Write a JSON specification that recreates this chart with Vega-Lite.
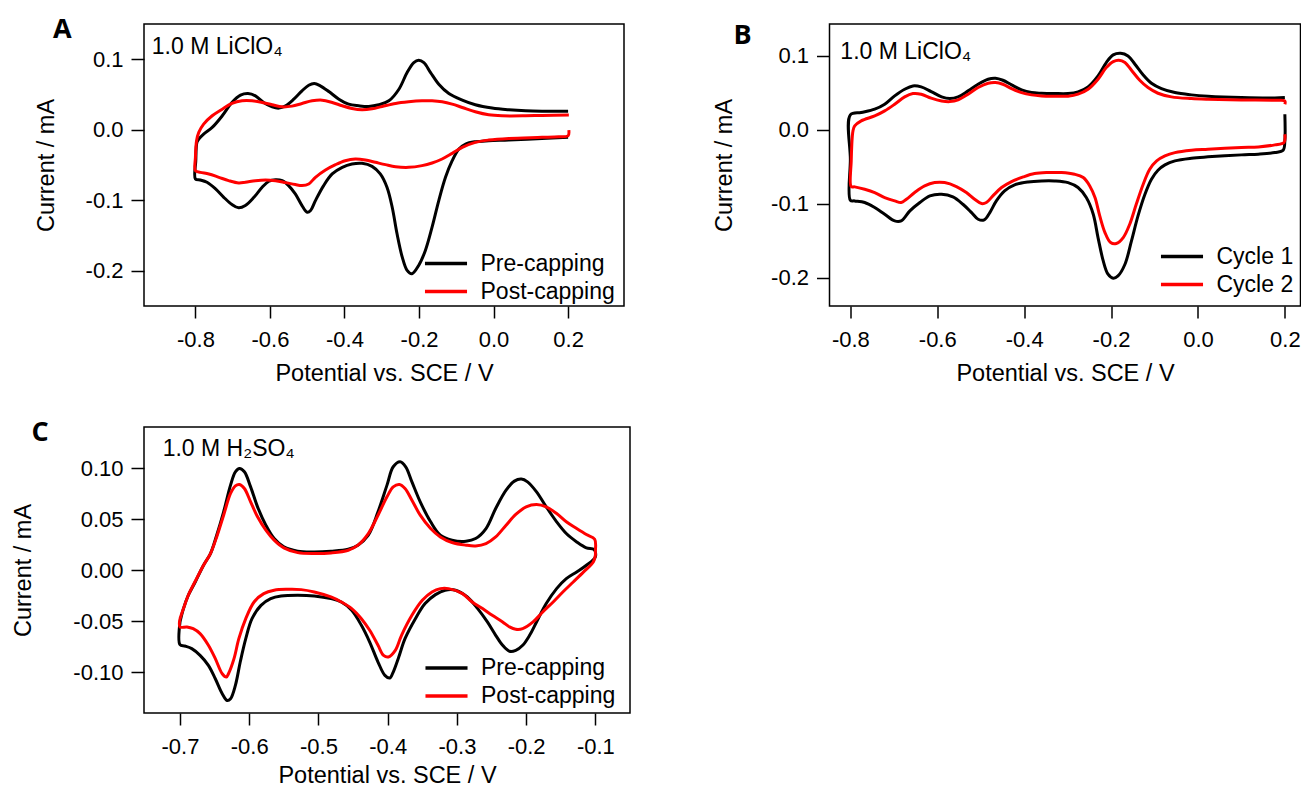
{
"$schema": "https://vega.github.io/schema/vega-lite/v6.json",
"background": "white",
"padding": {"left": 11, "top": 15, "right": 0, "bottom": 0},
"columns": 2,
"bounds": "flush",
"spacing": {"row": 121, "column": 199.5},
"resolve": {"scale": {"color": "independent"}, "legend": {"color": "independent"}},
"config": {
  "view": {"stroke": "black", "strokeWidth": 1.5},
  "font": "Liberation Sans",
  "axis": {"domain": false, "grid": false, "tickColor": "black", "tickWidth": 1.5, "labelFont": "Liberation Sans", "labelFontSize": 22, "labelColor": "black", "titleFont": "Liberation Sans", "titleFontSize": 23.5, "titleFontWeight": "normal", "titleColor": "black"},
  "axisX": {"tickSize": 12, "labelPadding": 11, "titlePadding": 11},
  "axisY": {"tickSize": 13, "labelPadding": 8, "titlePadding": 27},
  "legend": {"orient": "none", "symbolType": "M-2.5,0H2.5", "symbolSize": 283, "symbolStrokeWidth": 3.5, "labelFont": "Liberation Sans", "labelFontSize": 23, "labelColor": "black", "labelOffset": 23, "rowPadding": 4, "padding": 0},
  "title": {"font": "Open Sans", "fontSize": 27, "fontWeight": "bold", "color": "black", "anchor": "start", "frame": "group", "offset": 0, "baseline": "alphabetic"}
},
"concat": [
{
 "width": 480, "height": 282,
 "title": {"text": "A", "dx": -91, "dy": 23.75},
 "encoding": {
   "x": {"field": "E", "type": "quantitative", "title": "Potential vs. SCE / V", "scale": {"domain": [-0.938, 0.35], "nice": false, "zero": false}, "axis": {"values": [-0.8,-0.6,-0.4,-0.2,0,0.2], "labelExpr": "replace(format(datum.value, '.1f'), '\u2212', '-')"}},
   "y": {"field": "I", "type": "quantitative", "title": "Current / mA", "scale": {"domain": [-0.25, 0.15], "nice": false, "zero": false}, "axis": {"values": [-0.2,-0.1,0,0.1], "labelExpr": "replace(format(datum.value, '.1f'), '\u2212', '-')"}}
 },
 "layer": [
  {"data": {"values": [
{"series":"Pre-capping","E":0.200,"I":-0.0108},{"series":"Pre-capping","E":0.130,"I":-0.0123},{"series":"Pre-capping","E":0.041,"I":-0.0146},{"series":"Pre-capping","E":-0.013,"I":-0.0156},{"series":"Pre-capping","E":-0.049,"I":-0.0170},{"series":"Pre-capping","E":-0.075,"I":-0.0203},{"series":"Pre-capping","E":-0.093,"I":-0.0274},{"series":"Pre-capping","E":-0.111,"I":-0.0439},{"series":"Pre-capping","E":-0.129,"I":-0.0675},{"series":"Pre-capping","E":-0.147,"I":-0.1005},{"series":"Pre-capping","E":-0.165,"I":-0.1382},{"series":"Pre-capping","E":-0.183,"I":-0.1712},{"series":"Pre-capping","E":-0.201,"I":-0.1925},{"series":"Pre-capping","E":-0.219,"I":-0.2042},{"series":"Pre-capping","E":-0.232,"I":-0.1995},{"series":"Pre-capping","E":-0.245,"I":-0.1807},{"series":"Pre-capping","E":-0.259,"I":-0.1476},{"series":"Pre-capping","E":-0.272,"I":-0.1099},{"series":"Pre-capping","E":-0.286,"I":-0.0816},{"series":"Pre-capping","E":-0.304,"I":-0.0627},{"series":"Pre-capping","E":-0.326,"I":-0.0519},{"series":"Pre-capping","E":-0.353,"I":-0.0476},{"series":"Pre-capping","E":-0.380,"I":-0.0486},{"series":"Pre-capping","E":-0.406,"I":-0.0533},{"series":"Pre-capping","E":-0.433,"I":-0.0627},{"series":"Pre-capping","E":-0.456,"I":-0.0792},{"series":"Pre-capping","E":-0.478,"I":-0.1005},{"series":"Pre-capping","E":-0.491,"I":-0.1146},{"series":"Pre-capping","E":-0.500,"I":-0.1170},{"series":"Pre-capping","E":-0.514,"I":-0.1075},{"series":"Pre-capping","E":-0.532,"I":-0.0910},{"series":"Pre-capping","E":-0.550,"I":-0.0792},{"series":"Pre-capping","E":-0.567,"I":-0.0722},{"series":"Pre-capping","E":-0.585,"I":-0.0708},{"series":"Pre-capping","E":-0.603,"I":-0.0731},{"series":"Pre-capping","E":-0.621,"I":-0.0816},{"series":"Pre-capping","E":-0.643,"I":-0.0958},{"series":"Pre-capping","E":-0.666,"I":-0.1075},{"series":"Pre-capping","E":-0.684,"I":-0.1108},{"series":"Pre-capping","E":-0.702,"I":-0.1061},{"series":"Pre-capping","E":-0.724,"I":-0.0958},{"series":"Pre-capping","E":-0.746,"I":-0.0840},{"series":"Pre-capping","E":-0.769,"I":-0.0745},{"series":"Pre-capping","E":-0.787,"I":-0.0712},{"series":"Pre-capping","E":-0.800,"I":-0.0698},{"series":"Pre-capping","E":-0.799,"I":-0.0439},{"series":"Pre-capping","E":-0.796,"I":-0.0179},
{"series":"Pre-capping","E":-0.791,"I":-0.0132},{"series":"Pre-capping","E":-0.778,"I":-0.0061},{"series":"Pre-capping","E":-0.755,"I":0.0033},{"series":"Pre-capping","E":-0.728,"I":0.0198},{"series":"Pre-capping","E":-0.702,"I":0.0387},{"series":"Pre-capping","E":-0.679,"I":0.0491},{"series":"Pre-capping","E":-0.659,"I":0.0514},{"series":"Pre-capping","E":-0.639,"I":0.0481},{"series":"Pre-capping","E":-0.617,"I":0.0387},{"series":"Pre-capping","E":-0.594,"I":0.0325},{"series":"Pre-capping","E":-0.576,"I":0.0307},{"series":"Pre-capping","E":-0.558,"I":0.0340},{"series":"Pre-capping","E":-0.536,"I":0.0434},{"series":"Pre-capping","E":-0.514,"I":0.0552},{"series":"Pre-capping","E":-0.496,"I":0.0632},{"series":"Pre-capping","E":-0.481,"I":0.0656},{"series":"Pre-capping","E":-0.465,"I":0.0623},{"series":"Pre-capping","E":-0.442,"I":0.0542},{"series":"Pre-capping","E":-0.415,"I":0.0434},{"series":"Pre-capping","E":-0.389,"I":0.0363},{"series":"Pre-capping","E":-0.362,"I":0.0340},{"series":"Pre-capping","E":-0.335,"I":0.0330},{"series":"Pre-capping","E":-0.308,"I":0.0354},{"series":"Pre-capping","E":-0.281,"I":0.0410},{"series":"Pre-capping","E":-0.254,"I":0.0575},{"series":"Pre-capping","E":-0.232,"I":0.0811},{"series":"Pre-capping","E":-0.214,"I":0.0953},{"series":"Pre-capping","E":-0.201,"I":0.0986},{"series":"Pre-capping","E":-0.187,"I":0.0953},{"series":"Pre-capping","E":-0.169,"I":0.0811},{"series":"Pre-capping","E":-0.147,"I":0.0646},{"series":"Pre-capping","E":-0.120,"I":0.0514},{"series":"Pre-capping","E":-0.084,"I":0.0420},{"series":"Pre-capping","E":-0.049,"I":0.0354},{"series":"Pre-capping","E":-0.004,"I":0.0307},{"series":"Pre-capping","E":0.041,"I":0.0283},{"series":"Pre-capping","E":0.086,"I":0.0269},{"series":"Pre-capping","E":0.130,"I":0.0264},{"series":"Pre-capping","E":0.200,"I":0.0264},
{"series":"Post-capping","E":0.202,"I":-0.0005},{"series":"Post-capping","E":0.200,"I":-0.0085},{"series":"Post-capping","E":0.175,"I":-0.0099},{"series":"Post-capping","E":0.130,"I":-0.0108},{"series":"Post-capping","E":0.041,"I":-0.0123},{"series":"Post-capping","E":-0.013,"I":-0.0146},{"series":"Post-capping","E":-0.049,"I":-0.0179},{"series":"Post-capping","E":-0.084,"I":-0.0250},{"series":"Post-capping","E":-0.111,"I":-0.0335},{"series":"Post-capping","E":-0.138,"I":-0.0415},{"series":"Post-capping","E":-0.165,"I":-0.0472},{"series":"Post-capping","E":-0.192,"I":-0.0509},{"series":"Post-capping","E":-0.228,"I":-0.0533},{"series":"Post-capping","E":-0.263,"I":-0.0524},{"series":"Post-capping","E":-0.290,"I":-0.0495},{"series":"Post-capping","E":-0.317,"I":-0.0462},{"series":"Post-capping","E":-0.344,"I":-0.0429},{"series":"Post-capping","E":-0.371,"I":-0.0415},{"series":"Post-capping","E":-0.398,"I":-0.0439},{"series":"Post-capping","E":-0.424,"I":-0.0495},{"series":"Post-capping","E":-0.451,"I":-0.0571},{"series":"Post-capping","E":-0.478,"I":-0.0675},{"series":"Post-capping","E":-0.496,"I":-0.0769},{"series":"Post-capping","E":-0.514,"I":-0.0792},{"series":"Post-capping","E":-0.532,"I":-0.0778},{"series":"Post-capping","E":-0.558,"I":-0.0750},{"series":"Post-capping","E":-0.585,"I":-0.0722},{"series":"Post-capping","E":-0.612,"I":-0.0712},{"series":"Post-capping","E":-0.639,"I":-0.0722},{"series":"Post-capping","E":-0.666,"I":-0.0745},{"series":"Post-capping","E":-0.684,"I":-0.0755},{"series":"Post-capping","E":-0.711,"I":-0.0722},{"series":"Post-capping","E":-0.737,"I":-0.0675},{"series":"Post-capping","E":-0.764,"I":-0.0627},{"series":"Post-capping","E":-0.787,"I":-0.0604},{"series":"Post-capping","E":-0.800,"I":-0.0580},{"series":"Post-capping","E":-0.800,"I":-0.0392},{"series":"Post-capping","E":-0.797,"I":-0.0156},
{"series":"Post-capping","E":-0.791,"I":-0.0038},{"series":"Post-capping","E":-0.778,"I":0.0080},{"series":"Post-capping","E":-0.755,"I":0.0198},{"series":"Post-capping","E":-0.728,"I":0.0292},{"series":"Post-capping","E":-0.702,"I":0.0373},{"series":"Post-capping","E":-0.675,"I":0.0410},{"series":"Post-capping","E":-0.648,"I":0.0410},{"series":"Post-capping","E":-0.621,"I":0.0387},{"series":"Post-capping","E":-0.594,"I":0.0354},{"series":"Post-capping","E":-0.567,"I":0.0325},{"series":"Post-capping","E":-0.541,"I":0.0335},{"series":"Post-capping","E":-0.514,"I":0.0373},{"series":"Post-capping","E":-0.487,"I":0.0410},{"series":"Post-capping","E":-0.460,"I":0.0420},{"series":"Post-capping","E":-0.433,"I":0.0387},{"series":"Post-capping","E":-0.406,"I":0.0340},{"series":"Post-capping","E":-0.380,"I":0.0302},{"series":"Post-capping","E":-0.353,"I":0.0283},{"series":"Post-capping","E":-0.326,"I":0.0297},{"series":"Post-capping","E":-0.299,"I":0.0330},{"series":"Post-capping","E":-0.263,"I":0.0373},{"series":"Post-capping","E":-0.228,"I":0.0396},{"series":"Post-capping","E":-0.192,"I":0.0410},{"series":"Post-capping","E":-0.165,"I":0.0410},{"series":"Post-capping","E":-0.138,"I":0.0396},{"series":"Post-capping","E":-0.111,"I":0.0363},{"series":"Post-capping","E":-0.084,"I":0.0316},{"series":"Post-capping","E":-0.049,"I":0.0255},{"series":"Post-capping","E":-0.013,"I":0.0212},{"series":"Post-capping","E":0.023,"I":0.0198},{"series":"Post-capping","E":0.086,"I":0.0198},{"series":"Post-capping","E":0.130,"I":0.0203},{"series":"Post-capping","E":0.202,"I":0.0208}
  ]},
   "mark": {"type": "line", "strokeWidth": 3, "interpolate": "catmull-rom", "strokeJoin": "round"},
   "encoding": {"color": {"field": "series", "type": "nominal", "scale": {"domain": ["Pre-capping", "Post-capping"], "range": ["#000000", "#ff0000"]}, "legend": {"title": null, "legendX": 290.5, "legendY": 228}}, "order": {"value": null}}},
  {"data": {"values": [{"E": -0.917, "I": 0.107, "label": "1.0 M LiClO₄"}]},
   "mark": {"type": "text", "align": "left", "baseline": "alphabetic", "fontSize": 23, "font": "Liberation Sans", "color": "black"},
   "encoding": {"text": {"field": "label"}}}
 ]
},
{
 "width": 471, "height": 282,
 "title": {"text": "B", "dx": -96, "dy": 29.75},
 "encoding": {
   "x": {"field": "E", "type": "quantitative", "title": "Potential vs. SCE / V", "scale": {"domain": [-0.848, 0.236], "nice": false, "zero": false}, "axis": {"values": [-0.8,-0.6,-0.4,-0.2,0,0.2], "labelExpr": "replace(format(datum.value, '.1f'), '\u2212', '-')"}},
   "y": {"field": "I", "type": "quantitative", "title": "Current / mA", "scale": {"domain": [-0.2383, 0.1433], "nice": false, "zero": false}, "axis": {"values": [-0.2,-0.1,0,0.1], "titlePadding": 34, "labelExpr": "replace(format(datum.value, '.1f'), '\u2212', '-')"}}
 },
 "layer": [
  {"data": {"values": [
{"series":"Cycle 1","E":0.200,"I":0.0212},{"series":"Cycle 1","E":0.200,"I":-0.0149},{"series":"Cycle 1","E":0.196,"I":-0.0275},{"series":"Cycle 1","E":0.177,"I":-0.0307},{"series":"Cycle 1","E":0.139,"I":-0.0329},{"series":"Cycle 1","E":0.100,"I":-0.0338},{"series":"Cycle 1","E":0.023,"I":-0.0365},{"series":"Cycle 1","E":-0.015,"I":-0.0383},{"series":"Cycle 1","E":-0.053,"I":-0.0419},{"series":"Cycle 1","E":-0.076,"I":-0.0474},{"series":"Cycle 1","E":-0.092,"I":-0.0546},{"series":"Cycle 1","E":-0.107,"I":-0.0668},{"series":"Cycle 1","E":-0.122,"I":-0.0871},{"series":"Cycle 1","E":-0.138,"I":-0.1164},{"series":"Cycle 1","E":-0.153,"I":-0.1502},{"series":"Cycle 1","E":-0.168,"I":-0.1818},{"series":"Cycle 1","E":-0.184,"I":-0.1976},{"series":"Cycle 1","E":-0.195,"I":-0.2007},{"series":"Cycle 1","E":-0.207,"I":-0.1953},{"series":"Cycle 1","E":-0.218,"I":-0.1773},{"series":"Cycle 1","E":-0.230,"I":-0.1457},{"series":"Cycle 1","E":-0.241,"I":-0.1141},{"series":"Cycle 1","E":-0.257,"I":-0.0916},{"series":"Cycle 1","E":-0.276,"I":-0.0780},{"series":"Cycle 1","E":-0.299,"I":-0.0713},{"series":"Cycle 1","E":-0.330,"I":-0.0690},{"series":"Cycle 1","E":-0.360,"I":-0.0690},{"series":"Cycle 1","E":-0.391,"I":-0.0704},{"series":"Cycle 1","E":-0.422,"I":-0.0744},{"series":"Cycle 1","E":-0.445,"I":-0.0825},{"series":"Cycle 1","E":-0.464,"I":-0.0961},{"series":"Cycle 1","E":-0.479,"I":-0.1119},{"series":"Cycle 1","E":-0.492,"I":-0.1218},{"series":"Cycle 1","E":-0.506,"I":-0.1209},{"series":"Cycle 1","E":-0.521,"I":-0.1119},{"series":"Cycle 1","E":-0.541,"I":-0.1006},{"series":"Cycle 1","E":-0.564,"I":-0.0907},{"series":"Cycle 1","E":-0.590,"I":-0.0871},{"series":"Cycle 1","E":-0.617,"I":-0.0893},{"series":"Cycle 1","E":-0.640,"I":-0.0983},{"series":"Cycle 1","E":-0.663,"I":-0.1096},{"series":"Cycle 1","E":-0.683,"I":-0.1231},{"series":"Cycle 1","E":-0.698,"I":-0.1231},{"series":"Cycle 1","E":-0.721,"I":-0.1141},{"series":"Cycle 1","E":-0.744,"I":-0.1051},{"series":"Cycle 1","E":-0.767,"I":-0.0983},{"series":"Cycle 1","E":-0.790,"I":-0.0961},{"series":"Cycle 1","E":-0.800,"I":-0.0952},{"series":"Cycle 1","E":-0.800,"I":-0.0400},{"series":"Cycle 1","E":-0.800,"I":0.0203},
{"series":"Cycle 1","E":-0.775,"I":0.0235},{"series":"Cycle 1","E":-0.744,"I":0.0280},{"series":"Cycle 1","E":-0.721,"I":0.0347},{"series":"Cycle 1","E":-0.698,"I":0.0460},{"series":"Cycle 1","E":-0.675,"I":0.0550},{"series":"Cycle 1","E":-0.656,"I":0.0595},{"series":"Cycle 1","E":-0.637,"I":0.0582},{"series":"Cycle 1","E":-0.614,"I":0.0519},{"series":"Cycle 1","E":-0.590,"I":0.0447},{"series":"Cycle 1","E":-0.571,"I":0.0424},{"series":"Cycle 1","E":-0.552,"I":0.0447},{"series":"Cycle 1","E":-0.529,"I":0.0528},{"series":"Cycle 1","E":-0.506,"I":0.0618},{"series":"Cycle 1","E":-0.483,"I":0.0686},{"series":"Cycle 1","E":-0.466,"I":0.0699},{"series":"Cycle 1","E":-0.449,"I":0.0672},{"series":"Cycle 1","E":-0.429,"I":0.0609},{"series":"Cycle 1","E":-0.406,"I":0.0541},{"series":"Cycle 1","E":-0.383,"I":0.0505},{"series":"Cycle 1","E":-0.360,"I":0.0496},{"series":"Cycle 1","E":-0.330,"I":0.0492},{"series":"Cycle 1","E":-0.299,"I":0.0492},{"series":"Cycle 1","E":-0.276,"I":0.0514},{"series":"Cycle 1","E":-0.253,"I":0.0582},{"series":"Cycle 1","E":-0.230,"I":0.0731},{"series":"Cycle 1","E":-0.211,"I":0.0911},{"series":"Cycle 1","E":-0.195,"I":0.1015},{"series":"Cycle 1","E":-0.178,"I":0.1037},{"series":"Cycle 1","E":-0.161,"I":0.1001},{"series":"Cycle 1","E":-0.145,"I":0.0889},{"series":"Cycle 1","E":-0.126,"I":0.0744},{"series":"Cycle 1","E":-0.107,"I":0.0631},{"series":"Cycle 1","E":-0.084,"I":0.0559},{"series":"Cycle 1","E":-0.053,"I":0.0505},{"series":"Cycle 1","E":-0.015,"I":0.0474},{"series":"Cycle 1","E":0.023,"I":0.0456},{"series":"Cycle 1","E":0.100,"I":0.0438},{"series":"Cycle 1","E":0.177,"I":0.0433},{"series":"Cycle 1","E":0.200,"I":0.0438},
{"series":"Cycle 2","E":0.200,"I":-0.0059},{"series":"Cycle 2","E":0.198,"I":-0.0171},{"series":"Cycle 2","E":0.177,"I":-0.0203},{"series":"Cycle 2","E":0.139,"I":-0.0230},{"series":"Cycle 2","E":0.100,"I":-0.0239},{"series":"Cycle 2","E":0.023,"I":-0.0262},{"series":"Cycle 2","E":-0.015,"I":-0.0275},{"series":"Cycle 2","E":-0.053,"I":-0.0307},{"series":"Cycle 2","E":-0.076,"I":-0.0352},{"series":"Cycle 2","E":-0.095,"I":-0.0419},{"series":"Cycle 2","E":-0.111,"I":-0.0532},{"series":"Cycle 2","E":-0.126,"I":-0.0735},{"series":"Cycle 2","E":-0.142,"I":-0.1006},{"series":"Cycle 2","E":-0.157,"I":-0.1276},{"series":"Cycle 2","E":-0.172,"I":-0.1457},{"series":"Cycle 2","E":-0.188,"I":-0.1538},{"series":"Cycle 2","E":-0.201,"I":-0.1525},{"series":"Cycle 2","E":-0.214,"I":-0.1389},{"series":"Cycle 2","E":-0.226,"I":-0.1164},{"series":"Cycle 2","E":-0.237,"I":-0.0916},{"series":"Cycle 2","E":-0.249,"I":-0.0758},{"series":"Cycle 2","E":-0.264,"I":-0.0645},{"series":"Cycle 2","E":-0.284,"I":-0.0600},{"series":"Cycle 2","E":-0.314,"I":-0.0577},{"series":"Cycle 2","E":-0.345,"I":-0.0577},{"series":"Cycle 2","E":-0.376,"I":-0.0591},{"series":"Cycle 2","E":-0.402,"I":-0.0636},{"series":"Cycle 2","E":-0.429,"I":-0.0699},{"series":"Cycle 2","E":-0.452,"I":-0.0780},{"series":"Cycle 2","E":-0.472,"I":-0.0893},{"series":"Cycle 2","E":-0.487,"I":-0.0983},{"series":"Cycle 2","E":-0.498,"I":-0.0997},{"series":"Cycle 2","E":-0.514,"I":-0.0938},{"series":"Cycle 2","E":-0.533,"I":-0.0848},{"series":"Cycle 2","E":-0.556,"I":-0.0767},{"series":"Cycle 2","E":-0.583,"I":-0.0713},{"series":"Cycle 2","E":-0.606,"I":-0.0713},{"series":"Cycle 2","E":-0.629,"I":-0.0758},{"series":"Cycle 2","E":-0.652,"I":-0.0848},{"series":"Cycle 2","E":-0.671,"I":-0.0938},{"series":"Cycle 2","E":-0.683,"I":-0.0983},{"series":"Cycle 2","E":-0.698,"I":-0.0961},{"series":"Cycle 2","E":-0.721,"I":-0.0916},{"series":"Cycle 2","E":-0.744,"I":-0.0848},{"series":"Cycle 2","E":-0.767,"I":-0.0803},{"series":"Cycle 2","E":-0.790,"I":-0.0771},{"series":"Cycle 2","E":-0.798,"I":-0.0767},{"series":"Cycle 2","E":-0.798,"I":-0.0419},{"series":"Cycle 2","E":-0.794,"I":-0.0014},
{"series":"Cycle 2","E":-0.790,"I":0.0054},{"series":"Cycle 2","E":-0.775,"I":0.0122},{"series":"Cycle 2","E":-0.744,"I":0.0189},{"series":"Cycle 2","E":-0.721,"I":0.0257},{"series":"Cycle 2","E":-0.698,"I":0.0347},{"series":"Cycle 2","E":-0.675,"I":0.0447},{"series":"Cycle 2","E":-0.656,"I":0.0492},{"series":"Cycle 2","E":-0.637,"I":0.0483},{"series":"Cycle 2","E":-0.614,"I":0.0429},{"series":"Cycle 2","E":-0.590,"I":0.0392},{"series":"Cycle 2","E":-0.571,"I":0.0383},{"series":"Cycle 2","E":-0.552,"I":0.0406},{"series":"Cycle 2","E":-0.529,"I":0.0483},{"series":"Cycle 2","E":-0.506,"I":0.0573},{"series":"Cycle 2","E":-0.483,"I":0.0631},{"series":"Cycle 2","E":-0.466,"I":0.0641},{"series":"Cycle 2","E":-0.449,"I":0.0618},{"series":"Cycle 2","E":-0.429,"I":0.0559},{"series":"Cycle 2","E":-0.406,"I":0.0505},{"series":"Cycle 2","E":-0.383,"I":0.0474},{"series":"Cycle 2","E":-0.360,"I":0.0460},{"series":"Cycle 2","E":-0.330,"I":0.0456},{"series":"Cycle 2","E":-0.299,"I":0.0456},{"series":"Cycle 2","E":-0.276,"I":0.0483},{"series":"Cycle 2","E":-0.253,"I":0.0550},{"series":"Cycle 2","E":-0.230,"I":0.0686},{"series":"Cycle 2","E":-0.211,"I":0.0843},{"series":"Cycle 2","E":-0.195,"I":0.0925},{"series":"Cycle 2","E":-0.182,"I":0.0943},{"series":"Cycle 2","E":-0.168,"I":0.0911},{"series":"Cycle 2","E":-0.153,"I":0.0807},{"series":"Cycle 2","E":-0.134,"I":0.0672},{"series":"Cycle 2","E":-0.115,"I":0.0573},{"series":"Cycle 2","E":-0.092,"I":0.0496},{"series":"Cycle 2","E":-0.061,"I":0.0447},{"series":"Cycle 2","E":-0.015,"I":0.0424},{"series":"Cycle 2","E":0.023,"I":0.0415},{"series":"Cycle 2","E":0.100,"I":0.0406},{"series":"Cycle 2","E":0.177,"I":0.0401},{"series":"Cycle 2","E":0.200,"I":0.0392},{"series":"Cycle 2","E":0.200,"I":0.0347}
  ]},
   "mark": {"type": "line", "strokeWidth": 3, "interpolate": "catmull-rom", "strokeJoin": "round"},
   "encoding": {"color": {"field": "series", "type": "nominal", "scale": {"domain": ["Cycle 1", "Cycle 2"], "range": ["#000000", "#ff0000"]}, "legend": {"title": null, "legendX": 341, "legendY": 221}}, "order": {"value": null}}},
  {"data": {"values": [{"E": -0.823, "I": 0.0959, "label": "1.0 M LiClO₄"}]},
   "mark": {"type": "text", "align": "left", "baseline": "alphabetic", "fontSize": 23, "font": "Liberation Sans", "color": "black"},
   "encoding": {"text": {"field": "label"}}}
 ]
},
{
 "width": 486, "height": 286,
 "title": {"text": "C", "dx": -112.5, "dy": 23.75},
 "encoding": {
   "x": {"field": "E", "type": "quantitative", "title": "Potential vs. SCE / V", "scale": {"domain": [-0.752, -0.05], "nice": false, "zero": false}, "axis": {"values": [-0.7,-0.6,-0.5,-0.4,-0.3,-0.2,-0.1], "titlePadding": 6.5, "labelExpr": "replace(format(datum.value, '.1f'), '\u2212', '-')"}},
   "y": {"field": "I", "type": "quantitative", "title": "Current / mA", "scale": {"domain": [-0.14, 0.1405], "nice": false, "zero": false}, "axis": {"values": [-0.1,-0.05,0,0.05,0.1], "titlePadding": 37, "labelExpr": "replace(format(datum.value, '.2f'), '\u2212', '-')"}}
 },
 "layer": [
  {"data": {"values": [
{"series":"Pre-capping","E":-0.700,"I":-0.0507},{"series":"Pre-capping","E":-0.695,"I":-0.0376},{"series":"Pre-capping","E":-0.688,"I":-0.0245},{"series":"Pre-capping","E":-0.678,"I":-0.0115},{"series":"Pre-capping","E":-0.666,"I":0.0049},{"series":"Pre-capping","E":-0.656,"I":0.0164},{"series":"Pre-capping","E":-0.647,"I":0.0344},{"series":"Pre-capping","E":-0.637,"I":0.0573},{"series":"Pre-capping","E":-0.627,"I":0.0835},{"series":"Pre-capping","E":-0.620,"I":0.0966},{"series":"Pre-capping","E":-0.614,"I":0.0998},{"series":"Pre-capping","E":-0.607,"I":0.0966},{"series":"Pre-capping","E":-0.598,"I":0.0818},{"series":"Pre-capping","E":-0.588,"I":0.0622},{"series":"Pre-capping","E":-0.576,"I":0.0442},{"series":"Pre-capping","E":-0.564,"I":0.0311},{"series":"Pre-capping","E":-0.550,"I":0.0229},{"series":"Pre-capping","E":-0.530,"I":0.0187},{"series":"Pre-capping","E":-0.506,"I":0.0180},{"series":"Pre-capping","E":-0.482,"I":0.0187},{"series":"Pre-capping","E":-0.457,"I":0.0206},{"series":"Pre-capping","E":-0.443,"I":0.0246},{"series":"Pre-capping","E":-0.428,"I":0.0344},{"series":"Pre-capping","E":-0.414,"I":0.0573},{"series":"Pre-capping","E":-0.401,"I":0.0835},{"series":"Pre-capping","E":-0.392,"I":0.1015},{"series":"Pre-capping","E":-0.382,"I":0.1064},{"series":"Pre-capping","E":-0.374,"I":0.1015},{"series":"Pre-capping","E":-0.365,"I":0.0867},{"series":"Pre-capping","E":-0.353,"I":0.0671},{"series":"Pre-capping","E":-0.338,"I":0.0475},{"series":"Pre-capping","E":-0.324,"I":0.0344},{"series":"Pre-capping","E":-0.307,"I":0.0295},{"series":"Pre-capping","E":-0.287,"I":0.0285},{"series":"Pre-capping","E":-0.273,"I":0.0311},{"series":"Pre-capping","E":-0.258,"I":0.0409},{"series":"Pre-capping","E":-0.244,"I":0.0606},{"series":"Pre-capping","E":-0.229,"I":0.0786},{"series":"Pre-capping","E":-0.217,"I":0.0874},{"series":"Pre-capping","E":-0.207,"I":0.0894},{"series":"Pre-capping","E":-0.198,"I":0.0867},{"series":"Pre-capping","E":-0.185,"I":0.0769},{"series":"Pre-capping","E":-0.171,"I":0.0622},{"series":"Pre-capping","E":-0.156,"I":0.0475},{"series":"Pre-capping","E":-0.142,"I":0.0360},{"series":"Pre-capping","E":-0.127,"I":0.0278},{"series":"Pre-capping","E":-0.113,"I":0.0219},{"series":"Pre-capping","E":-0.102,"I":0.0203},{"series":"Pre-capping","E":-0.100,"I":0.0131},
{"series":"Pre-capping","E":-0.113,"I":0.0049},{"series":"Pre-capping","E":-0.127,"I":-0.0016},{"series":"Pre-capping","E":-0.142,"I":-0.0082},{"series":"Pre-capping","E":-0.156,"I":-0.0180},{"series":"Pre-capping","E":-0.171,"I":-0.0327},{"series":"Pre-capping","E":-0.185,"I":-0.0507},{"series":"Pre-capping","E":-0.195,"I":-0.0638},{"series":"Pre-capping","E":-0.205,"I":-0.0736},{"series":"Pre-capping","E":-0.215,"I":-0.0786},{"series":"Pre-capping","E":-0.224,"I":-0.0795},{"series":"Pre-capping","E":-0.234,"I":-0.0736},{"series":"Pre-capping","E":-0.244,"I":-0.0638},{"series":"Pre-capping","E":-0.256,"I":-0.0507},{"series":"Pre-capping","E":-0.270,"I":-0.0376},{"series":"Pre-capping","E":-0.285,"I":-0.0262},{"series":"Pre-capping","E":-0.302,"I":-0.0196},{"series":"Pre-capping","E":-0.317,"I":-0.0196},{"series":"Pre-capping","E":-0.331,"I":-0.0239},{"series":"Pre-capping","E":-0.346,"I":-0.0327},{"series":"Pre-capping","E":-0.360,"I":-0.0475},{"series":"Pre-capping","E":-0.375,"I":-0.0671},{"series":"Pre-capping","E":-0.384,"I":-0.0851},{"series":"Pre-capping","E":-0.392,"I":-0.0998},{"series":"Pre-capping","E":-0.397,"I":-0.1057},{"series":"Pre-capping","E":-0.404,"I":-0.1031},{"series":"Pre-capping","E":-0.414,"I":-0.0900},{"series":"Pre-capping","E":-0.426,"I":-0.0704},{"series":"Pre-capping","E":-0.438,"I":-0.0540},{"series":"Pre-capping","E":-0.452,"I":-0.0393},{"series":"Pre-capping","E":-0.467,"I":-0.0311},{"series":"Pre-capping","E":-0.482,"I":-0.0278},{"series":"Pre-capping","E":-0.506,"I":-0.0252},{"series":"Pre-capping","E":-0.530,"I":-0.0245},{"series":"Pre-capping","E":-0.554,"I":-0.0252},{"series":"Pre-capping","E":-0.569,"I":-0.0278},{"series":"Pre-capping","E":-0.583,"I":-0.0344},{"series":"Pre-capping","E":-0.596,"I":-0.0475},{"series":"Pre-capping","E":-0.605,"I":-0.0671},{"series":"Pre-capping","E":-0.613,"I":-0.0900},{"series":"Pre-capping","E":-0.620,"I":-0.1129},{"series":"Pre-capping","E":-0.627,"I":-0.1260},{"series":"Pre-capping","E":-0.632,"I":-0.1277},{"series":"Pre-capping","E":-0.639,"I":-0.1211},{"series":"Pre-capping","E":-0.649,"I":-0.1064},{"series":"Pre-capping","E":-0.659,"I":-0.0933},{"series":"Pre-capping","E":-0.671,"I":-0.0835},{"series":"Pre-capping","E":-0.683,"I":-0.0769},{"series":"Pre-capping","E":-0.693,"I":-0.0743},{"series":"Pre-capping","E":-0.700,"I":-0.0730},{"series":"Pre-capping","E":-0.700,"I":-0.0507},
{"series":"Post-capping","E":-0.700,"I":-0.0475},{"series":"Post-capping","E":-0.695,"I":-0.0376},{"series":"Post-capping","E":-0.688,"I":-0.0245},{"series":"Post-capping","E":-0.678,"I":-0.0108},{"series":"Post-capping","E":-0.666,"I":0.0049},{"series":"Post-capping","E":-0.656,"I":0.0164},{"series":"Post-capping","E":-0.647,"I":0.0327},{"series":"Post-capping","E":-0.637,"I":0.0540},{"series":"Post-capping","E":-0.627,"I":0.0753},{"series":"Post-capping","E":-0.620,"I":0.0828},{"series":"Post-capping","E":-0.614,"I":0.0841},{"series":"Post-capping","E":-0.607,"I":0.0802},{"series":"Post-capping","E":-0.598,"I":0.0671},{"series":"Post-capping","E":-0.588,"I":0.0524},{"series":"Post-capping","E":-0.576,"I":0.0393},{"series":"Post-capping","E":-0.564,"I":0.0295},{"series":"Post-capping","E":-0.550,"I":0.0219},{"series":"Post-capping","E":-0.530,"I":0.0173},{"series":"Post-capping","E":-0.506,"I":0.0164},{"series":"Post-capping","E":-0.482,"I":0.0170},{"series":"Post-capping","E":-0.457,"I":0.0196},{"series":"Post-capping","E":-0.443,"I":0.0246},{"series":"Post-capping","E":-0.428,"I":0.0360},{"series":"Post-capping","E":-0.414,"I":0.0540},{"series":"Post-capping","E":-0.401,"I":0.0720},{"series":"Post-capping","E":-0.392,"I":0.0818},{"series":"Post-capping","E":-0.383,"I":0.0841},{"series":"Post-capping","E":-0.375,"I":0.0802},{"series":"Post-capping","E":-0.365,"I":0.0687},{"series":"Post-capping","E":-0.353,"I":0.0540},{"series":"Post-capping","E":-0.338,"I":0.0409},{"series":"Post-capping","E":-0.324,"I":0.0327},{"series":"Post-capping","E":-0.307,"I":0.0272},{"series":"Post-capping","E":-0.287,"I":0.0246},{"series":"Post-capping","E":-0.273,"I":0.0239},{"series":"Post-capping","E":-0.258,"I":0.0262},{"series":"Post-capping","E":-0.244,"I":0.0327},{"series":"Post-capping","E":-0.229,"I":0.0442},{"series":"Post-capping","E":-0.215,"I":0.0547},{"series":"Post-capping","E":-0.200,"I":0.0622},{"series":"Post-capping","E":-0.185,"I":0.0645},{"series":"Post-capping","E":-0.171,"I":0.0622},{"series":"Post-capping","E":-0.156,"I":0.0556},{"series":"Post-capping","E":-0.142,"I":0.0475},{"series":"Post-capping","E":-0.127,"I":0.0409},{"series":"Post-capping","E":-0.113,"I":0.0350},{"series":"Post-capping","E":-0.101,"I":0.0304},{"series":"Post-capping","E":-0.100,"I":0.0180},{"series":"Post-capping","E":-0.100,"I":0.0147},
{"series":"Post-capping","E":-0.103,"I":0.0082},{"series":"Post-capping","E":-0.117,"I":-0.0016},{"series":"Post-capping","E":-0.132,"I":-0.0115},{"series":"Post-capping","E":-0.147,"I":-0.0213},{"series":"Post-capping","E":-0.161,"I":-0.0311},{"series":"Post-capping","E":-0.176,"I":-0.0409},{"series":"Post-capping","E":-0.190,"I":-0.0507},{"series":"Post-capping","E":-0.205,"I":-0.0573},{"series":"Post-capping","E":-0.215,"I":-0.0579},{"series":"Post-capping","E":-0.224,"I":-0.0556},{"series":"Post-capping","E":-0.234,"I":-0.0507},{"series":"Post-capping","E":-0.249,"I":-0.0442},{"series":"Post-capping","E":-0.263,"I":-0.0376},{"series":"Post-capping","E":-0.278,"I":-0.0311},{"series":"Post-capping","E":-0.292,"I":-0.0229},{"series":"Post-capping","E":-0.312,"I":-0.0180},{"series":"Post-capping","E":-0.324,"I":-0.0180},{"series":"Post-capping","E":-0.336,"I":-0.0213},{"series":"Post-capping","E":-0.350,"I":-0.0295},{"series":"Post-capping","E":-0.365,"I":-0.0442},{"series":"Post-capping","E":-0.380,"I":-0.0638},{"series":"Post-capping","E":-0.389,"I":-0.0786},{"series":"Post-capping","E":-0.399,"I":-0.0851},{"series":"Post-capping","E":-0.406,"I":-0.0835},{"series":"Post-capping","E":-0.414,"I":-0.0736},{"series":"Post-capping","E":-0.426,"I":-0.0589},{"series":"Post-capping","E":-0.438,"I":-0.0475},{"series":"Post-capping","E":-0.452,"I":-0.0376},{"series":"Post-capping","E":-0.467,"I":-0.0311},{"series":"Post-capping","E":-0.482,"I":-0.0262},{"series":"Post-capping","E":-0.506,"I":-0.0213},{"series":"Post-capping","E":-0.525,"I":-0.0190},{"series":"Post-capping","E":-0.545,"I":-0.0187},{"series":"Post-capping","E":-0.564,"I":-0.0196},{"series":"Post-capping","E":-0.579,"I":-0.0229},{"series":"Post-capping","E":-0.593,"I":-0.0311},{"series":"Post-capping","E":-0.605,"I":-0.0475},{"series":"Post-capping","E":-0.615,"I":-0.0671},{"series":"Post-capping","E":-0.622,"I":-0.0867},{"series":"Post-capping","E":-0.630,"I":-0.1015},{"series":"Post-capping","E":-0.633,"I":-0.1047},{"series":"Post-capping","E":-0.639,"I":-0.1015},{"series":"Post-capping","E":-0.649,"I":-0.0867},{"series":"Post-capping","E":-0.659,"I":-0.0736},{"series":"Post-capping","E":-0.671,"I":-0.0622},{"series":"Post-capping","E":-0.681,"I":-0.0573},{"series":"Post-capping","E":-0.690,"I":-0.0556},{"series":"Post-capping","E":-0.700,"I":-0.0556},{"series":"Post-capping","E":-0.700,"I":-0.0475}
  ]},
   "mark": {"type": "line", "strokeWidth": 3, "interpolate": "catmull-rom", "strokeJoin": "round"},
   "encoding": {"color": {"field": "series", "type": "nominal", "scale": {"domain": ["Pre-capping", "Post-capping"], "range": ["#000000", "#ff0000"]}, "legend": {"title": null, "legendX": 291, "legendY": 229.5}}, "order": {"value": null}}},
  {"data": {"values": [{"E": -0.725, "I": 0.112, "label": "1.0 M H₂SO₄"}]},
   "mark": {"type": "text", "align": "left", "baseline": "alphabetic", "fontSize": 23, "font": "Liberation Sans", "color": "black"},
   "encoding": {"text": {"field": "label"}}}
 ]
}
]
}
